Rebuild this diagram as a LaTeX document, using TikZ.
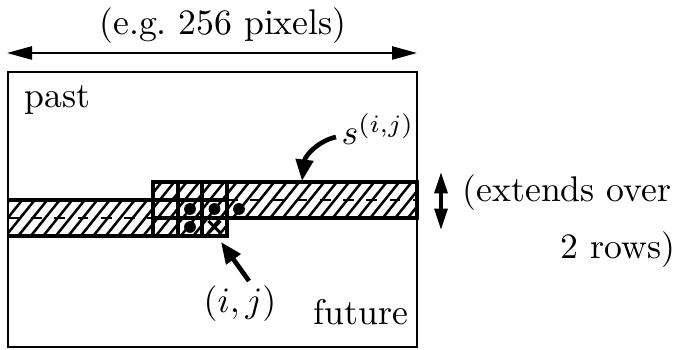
\documentclass[tikz,border=0pt]{standalone}
\usetikzlibrary{arrows.meta,shapes.misc}
\begin{document}
\begin{tikzpicture}[x=0.28pt,y=-0.28pt,
  txt/.style={inner sep=0pt,font=\normalsize},
  frame/.style={line width=0.6pt},
  gridln/.style={line width=1pt},
  hatchln/.style={line width=0.7pt},
  dashln/.style={line width=0.6pt,dash pattern=on 3pt off 3.5pt},
  bigarrow/.style={line width=1.3pt,-{Triangle[length=6pt,width=4.8pt]}},
  dimarrow/.style={line width=0.55pt,{Triangle[length=7pt,width=3.7pt]}-{Triangle[length=7pt,width=3.7pt]}},
  vertarrow/.style={line width=1pt,{Triangle[length=6pt,width=3.6pt]}-{Triangle[length=6pt,width=3.6pt]}},
  dot/.style={circle,fill,inner sep=0pt,minimum size=3.3pt},
  pixmark/.style={cross out,draw,line width=0.8pt,inner sep=0pt,minimum size=2.6pt}]
\useasboundingbox (0,0) rectangle (679,350);

% width label and arrow
\node[txt,anchor=base] (width) at (223,35) {(e.g.\ 256 pixels)};
\coordinate (wl) at (7,53);
\coordinate (wr) at (417,53);
\draw[dimarrow] (wl) -- (wr);

% image frame
\draw[frame] (8,72) rectangle (417,347);
\node[txt,anchor=base west] (past) at (24,108) {past};
\node[txt,anchor=base west] (future) at (313,325) {future};

% hatched band
\begin{scope}
  \clip (8,200) -- (153,200) -- (153,182) -- (417,182) -- (417,218)
        -- (227,218) -- (227,236) -- (8,236) -- cycle;
  \foreach \k in {-60,-47.5,...,460}
    \draw[hatchln] (\k,240) -- (\k+50,178);
\end{scope}
\draw[dashln] (8,218) -- (153,218);
\draw[dashln] (227,200) -- (417,200);
\draw[gridln] (8,200) -- (153,200) -- (153,182) -- (417,182) -- (417,218)
        -- (227,218) -- (227,236) -- (8,236);
% context grid
\draw[gridln] (153,182) -- (153,236) (178,182) -- (178,236)
              (202,182) -- (202,236) (227,182) -- (227,236);
\draw[gridln] (153,182) -- (227,182) (153,200) -- (227,200)
              (153,218) -- (227,218) (153,236) -- (227,236);

% context pixels and current pixel
\node[dot] (c1) at (190,209) {};
\node[dot] (c2) at (214.5,209) {};
\node[dot] (c3) at (239,209) {};
\node[dot] (c4) at (190,227) {};
\node[pixmark] (pix) at (214.5,227) {};

% labels with arrows
\node[txt,anchor=base west] (slab) at (341,145) {$s^{(i,j)}$};
\coordinate (stail) at (336,137);
\coordinate (stip) at (302,181);
\draw[bigarrow] (stail) .. controls (318,141) and (305,156) .. (stip);

\node[txt,anchor=base] (ijlab) at (240,313) {$(i,j)$};
\coordinate (ijtail) at (249,281);
\coordinate (ijtip) at (221,242);
\draw[bigarrow] (ijtail) -- (ijtip);

% row extent
\coordinate (vt) at (441,172);
\coordinate (vb) at (441,230);
\draw[vertarrow] (vt) -- (vb);
\node[txt,anchor=base west] (ext1) at (462,202) {(extends over};
\node[txt,anchor=base east] (ext2) at (676,259) {2 rows)};
\end{tikzpicture}
\end{document}
